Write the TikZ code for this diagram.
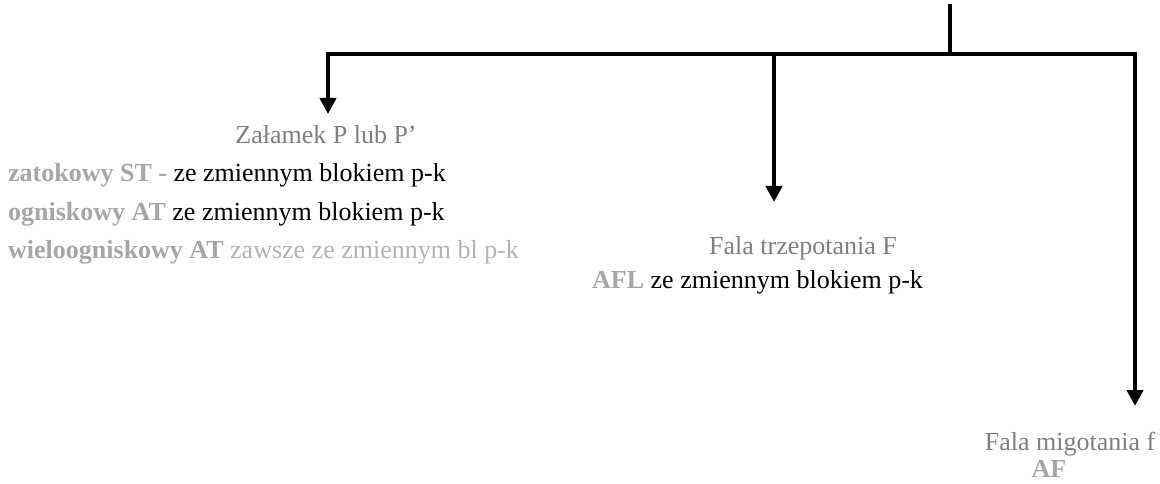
\documentclass[tikz,border=0pt]{standalone}
\usepackage{fontspec}
\setmainfont{Liberation Serif}
\usetikzlibrary{arrows.meta}
\definecolor{headgray}{HTML}{7F7F7F}
\definecolor{boldgray}{HTML}{A6A6A6}
\definecolor{softgray}{HTML}{B3B3B3}
\tikzset{
  wire/.style={line width=4pt, line cap=rect},
  feed/.style={line width=4pt, -{Triangle[length=16pt,width=16pt]}},
  txt/.style={inner sep=0pt, font=\fontsize{26}{30}\selectfont},
  head/.style={txt, text=headgray, anchor=base},
  item/.style={txt, anchor=base west},
}
\begin{document}
\begin{tikzpicture}[x=1pt,y=-1pt]
\useasboundingbox (0,0) rectangle (1160,484);
% branching bus
\coordinate (top) at (950,6);
\coordinate (jn) at (950,54);
\coordinate (bl) at (328,54);
\coordinate (bm) at (774,54);
\coordinate (br) at (1135,54);
\draw[wire] (top) -- (jn);
\draw[wire] (bl) -- (br);
% arrow targets
\coordinate (tl) at (328,114);
\coordinate (tm) at (774,202);
\coordinate (tr) at (1135,406);
\draw[feed] (bl) -- (tl);
\draw[feed] (bm) -- (tm);
\draw[feed] (br) -- (tr);
% P wave branch
\node[head] (p) at (326,144) {Załamek P lub P’};
\node[item] (p1) at (8,182) {\textcolor{boldgray}{\textbf{zatokowy ST -}} ze zmiennym blokiem p-k};
\node[item] (p2) at (8,220) {\textcolor{boldgray}{\textbf{ogniskowy AT}} ze zmiennym blokiem p-k};
\node[item] (p3) at (8,258) {\textcolor{boldgray}{\textbf{wieloogniskowy AT}} \textcolor{softgray}{zawsze ze zmiennym bl p-k}};
% flutter branch
\node[head] (f) at (803,254) {Fala trzepotania F};
\node[item] (f1) at (592,288) {\textcolor{boldgray}{\textbf{AFL}} ze zmiennym blokiem p-k};
% fibrillation branch
\node[head] (m) at (1070,450) {Fala migotania f};
\node[head, text=boldgray, font=\fontsize{26}{30}\selectfont\bfseries] (m1) at (1049,477) {AF};
\end{tikzpicture}
\end{document}
